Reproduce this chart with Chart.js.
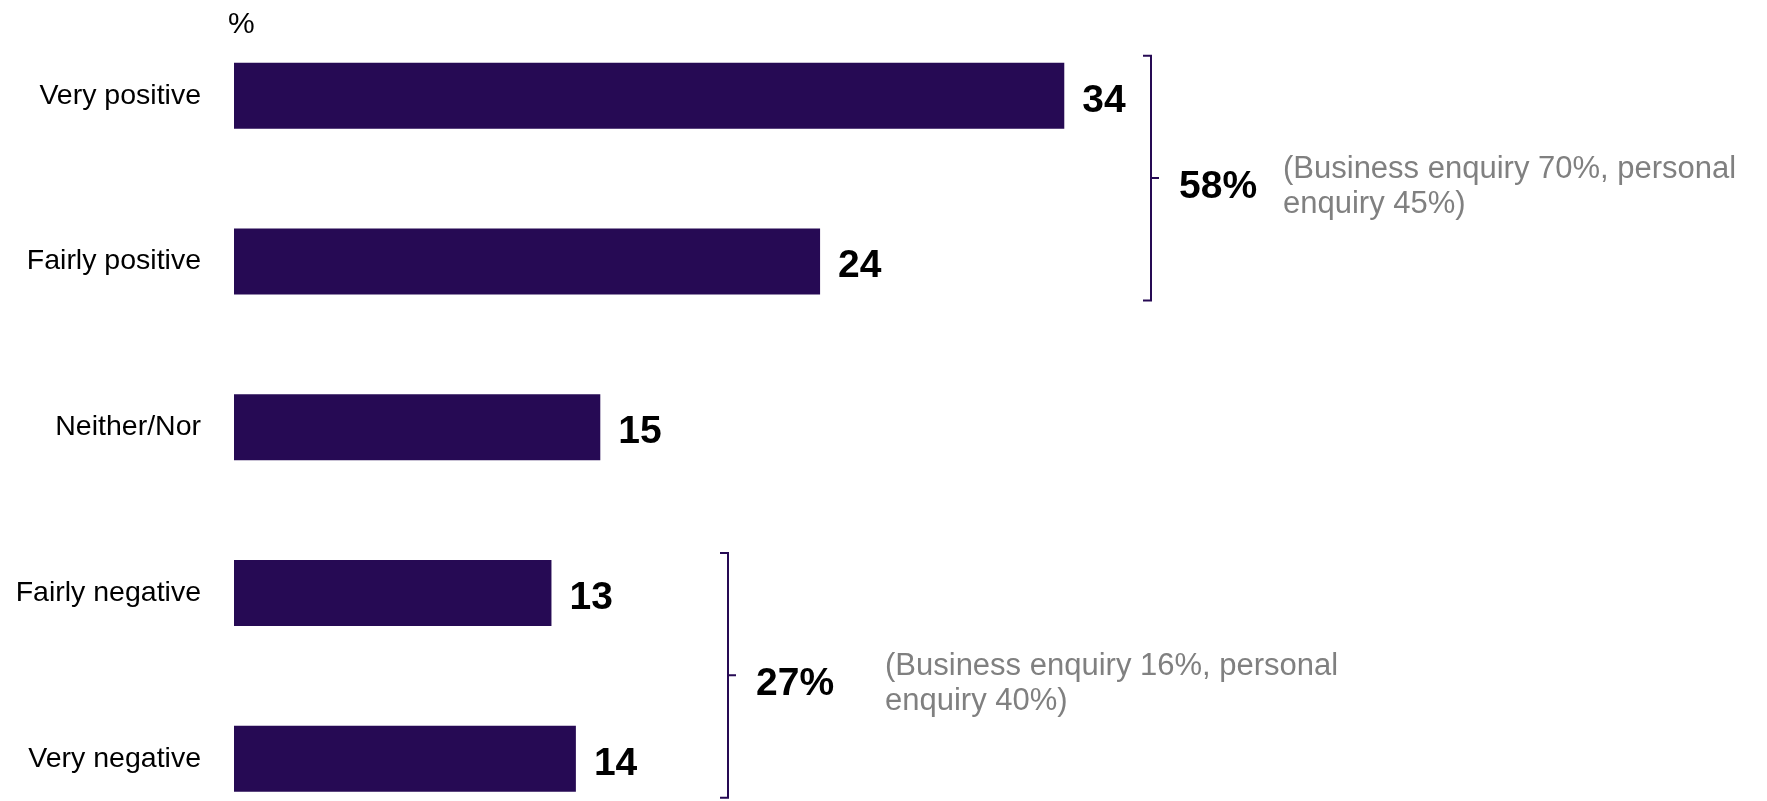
<!DOCTYPE html>
<html>
<head>
<meta charset="utf-8">
<title>Opinion of the service</title>
<script src="https://cdn.jsdelivr.net/npm/chart.js@4/dist/chart.umd.min.js"></script>
<style>
    html, body { margin: 0; padding: 0; background: #ffffff; }
    #wrap { position: relative; width: 1767px; height: 801px; }
</style>
</head>
<body>
<div id="wrap"><canvas id="myChart"></canvas></div>
<script>
const categories = ['Very positive', 'Fairly positive', 'Neither/Nor', 'Fairly negative', 'Very negative'];
const shares = [34, 24, 15, 13, 14];

// net groups: which bars they bracket, and the split shown next to them
const groupFirst = [0, 3];
const groupLast = [1, 4];
const groupNotes = [
    ['(Business enquiry 70%, personal', 'enquiry 45%)'],
    ['(Business enquiry 16%, personal', 'enquiry 40%)']
];

const FONT = '"Liberation Sans", Arial, sans-serif';
const PURPLE = '#260a54';

// bracket placement for each group (pixels)
const bracketStyle = [
    {x: 1151, noteX: 1283},
    {x: 728, noteX: 885}
];

const valueLabels = {
    id: 'valueLabels',
    afterDatasetsDraw(chart) {
        const ctx = chart.ctx;
        const meta = chart.getDatasetMeta(0);
        ctx.save();
        ctx.font = 'bold 39px ' + FONT;
        ctx.fillStyle = '#000000';
        ctx.textAlign = 'left';
        ctx.textBaseline = 'alphabetic';
        meta.data.forEach((bar, i) => {
            ctx.fillText(String(shares[i]), bar.x + 18, bar.y + 16);
        });

        // unit marker above the bars
        ctx.font = '30px ' + FONT;
        ctx.fillText('%', chart.chartArea.left - 6, 33);
        ctx.restore();
    }
};

const netBrackets = {
    id: 'netBrackets',
    afterDraw(chart) {
        const ctx = chart.ctx;
        const meta = chart.getDatasetMeta(0);
        ctx.save();
        groupFirst.forEach((first, g) => {
            const last = groupLast[g];
            const topBar = meta.data[first];
            const botBar = meta.data[last];
            const top = topBar.y - topBar.height / 2 - 7;
            const bottom = botBar.y + botBar.height / 2 + 6;
            const mid = (top + bottom) / 2;
            const x = bracketStyle[g].x;

            ctx.strokeStyle = PURPLE;
            ctx.lineWidth = 2;
            ctx.beginPath();
            ctx.moveTo(x - 8, top);
            ctx.lineTo(x, top);
            ctx.lineTo(x, bottom);
            ctx.lineTo(x - 8, bottom);
            ctx.moveTo(x, mid);
            ctx.lineTo(x + 8, mid);
            ctx.stroke();

            let total = 0;
            for (let i = first; i <= last; i++) total += shares[i];

            ctx.fillStyle = '#000000';
            ctx.font = 'bold 39px ' + FONT;
            ctx.textAlign = 'left';
            ctx.textBaseline = 'alphabetic';
            ctx.fillText(total + '%', x + 28, mid + 19.5);

            ctx.fillStyle = '#808080';
            ctx.font = '31px ' + FONT;
            groupNotes[g].forEach((line, k) => {
                ctx.fillText(line, bracketStyle[g].noteX, mid + k * 35);
            });
        });
        ctx.restore();
    }
};

new Chart(document.getElementById('myChart'), {
    type: 'bar',
    data: {
        labels: categories,
        datasets: [{
            data: shares,
            backgroundColor: PURPLE,
            borderWidth: 0,
            categoryPercentage: 1,
            barPercentage: 0.398,
            clip: false
        }]
    },
    options: {
        indexAxis: 'y',
        responsive: true,
        maintainAspectRatio: false,
        animation: false,
        layout: {
            padding: {top: 95.7, bottom: 42.3, left: 0, right: 312}
        },
        plugins: {
            legend: {display: false},
            tooltip: {enabled: false}
        },
        scales: {
            x: {
                display: false,
                min: 0,
                max: 50
            },
            y: {
                offset: false,
                grid: {display: false, drawTicks: false},
                border: {display: false},
                ticks: {
                    color: '#000000',
                    padding: 33,
                    font: {family: FONT, size: 28.5}
                },
                afterFit(scale) {
                    // fixed gutter for the labels; the layout padding sets the vertical extent
                    scale.width = 234;
                    scale.paddingTop = 0;
                    scale.paddingBottom = 0;
                }
            }
        }
    },
    plugins: [valueLabels, netBrackets]
});
</script>
</body>
</html>
